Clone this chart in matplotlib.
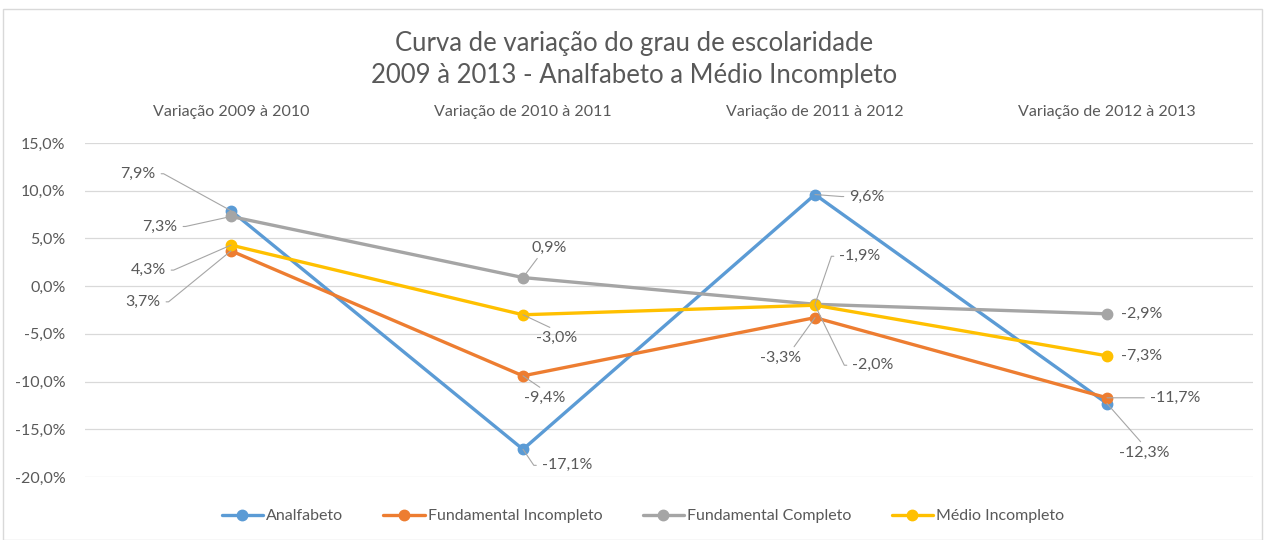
import matplotlib
matplotlib.use("Agg")
import matplotlib.pyplot as plt
from matplotlib.patches import Rectangle

categories = ["Variação 2009 à 2010", "Variação de 2010 à 2011",
              "Variação de 2011 à 2012", "Variação de 2012 à 2013"]
series_names = ["Analfabeto", "Fundamental Incompleto", "Fundamental Completo", "Médio Incompleto"]
analfabeto = [7.9, -17.1, 9.6, -12.3]
fund_incompleto = [3.7, -9.4, -3.3, -11.7]
fund_completo = [7.3, 0.9, -1.9, -2.9]
medio_incompleto = [4.3, -3.0, -2.0, -7.3]
yticks = [15, 10, 5, 0, -5, -10, -15, -20]

colors = ["#5B9BD5", "#ED7D31", "#A5A5A5", "#FFC000"]
values = [analfabeto, fund_incompleto, fund_completo, medio_incompleto]

# label placement per category, in series order: (dx, dy) pixel offsets, leader type
label_style = {
    0: [((-93, 37), ("arm", 0, (1, 0.5))), ((-88, -51), ("arm", 0, (1, 0.5))),
        ((-71, -10), ("arm", 0, (1, 0.5))), ((-83, -25), ("arm", 0, (1, 0.5)))],
    1: [((44, -16), ("arm", 180, (0, 0.5))), ((22, -22), ("rel", (0.5, 1.0))),
        ((26, 30), ("rel", (0.25, 0.0))), ((34, -23), ("rel", (0.5, 1.0)))],
    2: [((52, -2), ("arm", 180, (0, 0.5))), ((-34, -40), ("rel", (0.75, 1.0))),
        ((45, 48), ("arm", 180, (0, 0.5))), ((58, -60), ("arm", 180, (0, 0.5)))],
    3: [((37, -49), ("rel", (0.5, 1.0))), ((68, 0), ("arm", 180, (0, 0.5))),
        ((35, 0), None), ((35, 0), None)],
}

text_color = "#595959"
font = "Lato"
plt.rcParams["font.family"] = [font, "DejaVu Sans"]

fig = plt.figure(figsize=(12.69, 5.40), dpi=100)
fig.patches.append(Rectangle((3 / 1269, 0.0), 1259 / 1269, 531 / 540, transform=fig.transFigure,
                             fill=False, edgecolor="#D9D9D9", linewidth=1.0))

ax = fig.add_axes([85 / 1269, 1 - 477 / 540, 1168 / 1269, (477 - 143) / 540])
x = [i + 0.5 for i in range(len(categories))]

for name, vals, c in zip(series_names, values, colors):
    ax.plot(x, vals, color=c, lw=2.4, marker="o", markersize=7.5, label=name,
            solid_capstyle="round", zorder=3)

for si, vals in enumerate(values):
    for ci, v in enumerate(vals):
        (dx, dy), leader = label_style[ci][si]
        txt = f"{v:.1f}%".replace(".", ",")
        kw = dict(xy=(x[ci], v), xytext=(dx, dy), textcoords="offset pixels",
                  ha="center", va="center", fontsize=11.5, color=text_color, zorder=4)
        if leader is not None:
            if leader[0] == "arm":
                ang, rel = leader[1], leader[2]
                ap = dict(arrowstyle="-", color="#A6A6A6", lw=0.8, shrinkA=2, shrinkB=0,
                          relpos=rel,
                          connectionstyle=f"arc,angleA={ang},armA=8,angleB=0,armB=0,rad=0")
            else:
                ap = dict(arrowstyle="-", color="#A6A6A6", lw=0.8, shrinkA=1, shrinkB=0,
                          relpos=leader[1])
            kw["arrowprops"] = ap
        ax.annotate(txt, **kw)

ax.set_xlim(0, len(categories))
ax.set_ylim(-20, 15)
ax.set_yticks(yticks)
ax.set_yticklabels([f"{t:.1f}%".replace(".", ",") for t in yticks])
ax.set_xticks(x)
ax.set_xticklabels(categories)
ax.xaxis.tick_top()
ax.tick_params(axis="x", length=0, pad=17, labelsize=11.5, labelcolor=text_color)
ax.tick_params(axis="y", length=0, pad=14, labelsize=11.5, labelcolor=text_color)
ax.grid(axis="y", color="#D9D9D9", lw=0.9, zorder=0)
ax.set_axisbelow(True)
for s in ax.spines.values():
    s.set_visible(False)

fig.text(0.5, 1 - 43 / 540, "Curva de variação do grau de escolaridade", ha="center", va="center",
         fontsize=18.5, color=text_color)
fig.text(0.5, 1 - 75 / 540, "2009 à 2013 - Analfabeto a Médio Incompleto", ha="center", va="center",
         fontsize=18.5, color=text_color)

leg = fig.legend(loc="center", bbox_to_anchor=(643 / 1269, 1 - 516 / 540), ncol=4, frameon=False,
                 fontsize=11.5, handlelength=2.6, handletextpad=0.2, columnspacing=2.5,
                 labelcolor=text_color)

fig.savefig("out.png", dpi=100)
